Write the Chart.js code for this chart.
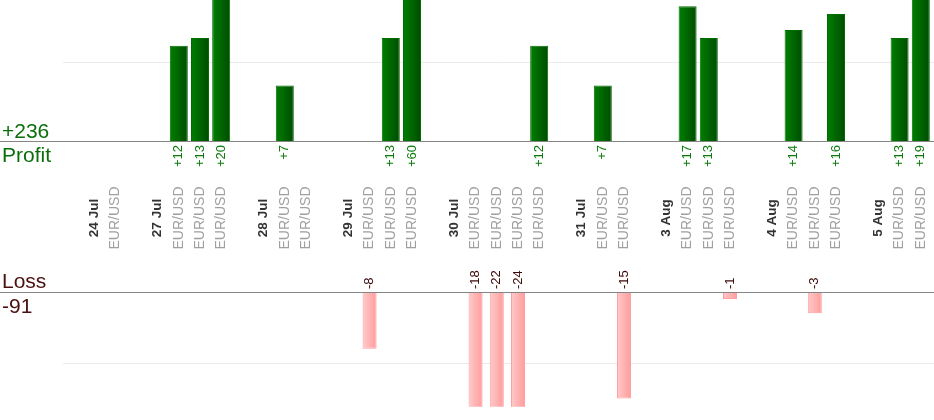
<!DOCTYPE html>
<html>
<head>
<meta charset="utf-8">
<title>Profit / Loss</title>
<script src="https://cdn.jsdelivr.net/npm/chart.js@4/dist/chart.umd.min.js"></script>
<style>
    html, body { margin: 0; padding: 0; background: #fff; }
    #wrap { position: relative; width: 934px; height: 420px; overflow: hidden; }
    canvas { position: absolute; left: 0; }
    #profitChart { top: 0; }
    #lossChart { top: 262px; }
</style>
</head>
<body>
<div id="wrap">
    <canvas id="profitChart" width="934" height="262"></canvas>
    <canvas id="lossChart" width="934" height="158"></canvas>
</div>
<script>
// one slot per trade, a date slot opens each day, an empty slot closes it
const categories = [
    '24 Jul', 'EUR/USD', '',
    '27 Jul', 'EUR/USD', 'EUR/USD', 'EUR/USD', '',
    '28 Jul', 'EUR/USD', 'EUR/USD', '',
    '29 Jul', 'EUR/USD', 'EUR/USD', 'EUR/USD', '',
    '30 Jul', 'EUR/USD', 'EUR/USD', 'EUR/USD', 'EUR/USD', '',
    '31 Jul', 'EUR/USD', 'EUR/USD', '',
    '3 Aug', 'EUR/USD', 'EUR/USD', 'EUR/USD', '',
    '4 Aug', 'EUR/USD', 'EUR/USD', 'EUR/USD', '',
    '5 Aug', 'EUR/USD', 'EUR/USD'
];
const dateLabels = ['24 Jul', '27 Jul', '28 Jul', '29 Jul', '30 Jul', '31 Jul', '3 Aug', '4 Aug', '5 Aug'];

const profit = [
    null, null, null,
    null, 12, 13, 20, null,
    null, 7, null, null,
    null, null, 13, 60, null,
    null, null, null, null, 12, null,
    null, 7, null, null,
    null, 17, 13, null, null,
    null, 14, null, 16, null,
    null, 13, 19
];
const loss = [
    null, null, null,
    null, null, null, null, null,
    null, null, null, null,
    null, -8, null, null, null,
    null, -18, -22, -24, null, null,
    null, null, -15, null,
    null, null, null, -1, null,
    null, null, -3, null, null,
    null, null, null
];
const profitGrid = [10];
const lossGrid = [-10];

const FONT = "'Liberation Sans', Arial, sans-serif";
const W = 934;

function total(arr){
    return arr.reduce((s, v) => s + (v || 0), 0);
}

// horizontal gradient across one bar, built from the x scale
function barGradient(c, halfW, left, right, solid){
    const chart = c.chart;
    const xs = chart.scales.x;
    if (!chart.chartArea || !xs || c.dataIndex === undefined) return solid;
    const x = xs.getPixelForValue(c.dataIndex);
    const g = chart.ctx.createLinearGradient(x - halfW, 0, x + halfW, 0);
    g.addColorStop(0, left);
    g.addColorStop(1, right);
    return g;
}

function hline(ctx, y, x0, x1, color){
    ctx.save();
    ctx.strokeStyle = color;
    ctx.lineWidth = 1;
    ctx.beginPath();
    ctx.moveTo(x0, Math.round(y) + 0.5);
    ctx.lineTo(x1, Math.round(y) + 0.5);
    ctx.stroke();
    ctx.restore();
}

function vtext(ctx, text, x, y, align, font, color){
    ctx.save();
    ctx.translate(x, y);
    ctx.rotate(-Math.PI / 2);
    ctx.font = font;
    ctx.fillStyle = color;
    ctx.textAlign = align;
    ctx.textBaseline = 'middle';
    ctx.fillText(text, 0, 0);
    ctx.restore();
}

const profitDecor = {
    id: 'profitDecor',
    beforeDatasetsDraw(chart){
        const y = chart.scales.y;
        profitGrid.forEach(v => hline(chart.ctx, y.getPixelForValue(v), 63, W, '#ebebeb'));
    },
    afterDatasetsDraw(chart){
        const ctx = chart.ctx;
        const x = chart.scales.x;
        const y0 = chart.scales.y.getPixelForValue(0);
        hline(ctx, y0 - 0.5, 0, W, '#858585');

        profit.forEach((v, i) => {
            if (v === null) return;
            vtext(ctx, '+' + v, x.getPixelForValue(i), y0 + 4, 'right', '13px ' + FONT, '#0a7a0a');
        });

        categories.forEach((lab, i) => {
            if (!lab) return;
            const isDate = dateLabels.includes(lab);
            vtext(ctx, lab, x.getPixelForValue(i), 218, 'center',
                isDate ? 'bold 13.5px ' + FONT : '14px ' + FONT,
                isDate ? '#333333' : '#a0a0a0');
        });

        ctx.save();
        ctx.font = '21px ' + FONT;
        ctx.fillStyle = '#0b6e0b';
        ctx.textAlign = 'left';
        ctx.textBaseline = 'alphabetic';
        ctx.fillText('+' + total(profit), 2, y0 - 3);
        ctx.fillText('Profit', 2, y0 + 21);
        ctx.restore();
    }
};

const lossDecor = {
    id: 'lossDecor',
    beforeDatasetsDraw(chart){
        const y = chart.scales.y;
        lossGrid.forEach(v => hline(chart.ctx, y.getPixelForValue(v), 63, W, '#ebebeb'));
    },
    afterDatasetsDraw(chart){
        const ctx = chart.ctx;
        const x = chart.scales.x;
        const y0 = chart.scales.y.getPixelForValue(0);
        hline(ctx, y0 - 0.5, 0, W, '#858585');

        loss.forEach((v, i) => {
            if (v === null) return;
            vtext(ctx, String(v), x.getPixelForValue(i), y0 - 3, 'left', '13px ' + FONT, '#3a0808');
        });

        ctx.save();
        ctx.font = '21px ' + FONT;
        ctx.fillStyle = '#4a0f0f';
        ctx.textAlign = 'left';
        ctx.textBaseline = 'alphabetic';
        ctx.fillText('Loss', 2, y0 - 4);
        ctx.fillText(String(total(loss)), 2, y0 + 21);
        ctx.restore();
    }
};

function hiddenScales(min, max){
    return {
        x: { type: 'category', display: false, offset: true },
        y: { display: false, min, max }
    };
}

new Chart(document.querySelector('#profitChart'), {
    type: 'bar',
    data: {
        labels: categories,
        datasets: [{
            data: profit,
            barPercentage: 0.85,
            categoryPercentage: 1,
            borderWidth: 1,
            borderColor: '#006c00',
            backgroundColor: c => barGradient(c, 9, '#007f00', '#004c00', '#006400')
        }]
    },
    options: {
        responsive: false,
        animation: false,
        events: [],
        layout: { padding: { left: 83.4, right: 2.6, top: 0, bottom: 121 } },
        plugins: { legend: { display: false }, tooltip: { enabled: false } },
        scales: hiddenScales(0, 17.78)
    },
    plugins: [profitDecor]
});

new Chart(document.querySelector('#lossChart'), {
    type: 'bar',
    data: {
        labels: categories,
        datasets: [{
            data: loss,
            barPercentage: 0.66,
            categoryPercentage: 1,
            borderWidth: 1,
            borderColor: '#ff9f9f',
            backgroundColor: c => barGradient(c, 7, '#ffcaca', '#ff9c9c', '#ffb0b0')
        }]
    },
    options: {
        responsive: false,
        animation: false,
        events: [],
        layout: { padding: { left: 83.4, right: 2.6, top: 30, bottom: 13.3 } },
        plugins: { legend: { display: false }, tooltip: { enabled: false } },
        scales: hiddenScales(-16.15, 0)
    },
    plugins: [lossDecor]
});
</script>
</body>
</html>
